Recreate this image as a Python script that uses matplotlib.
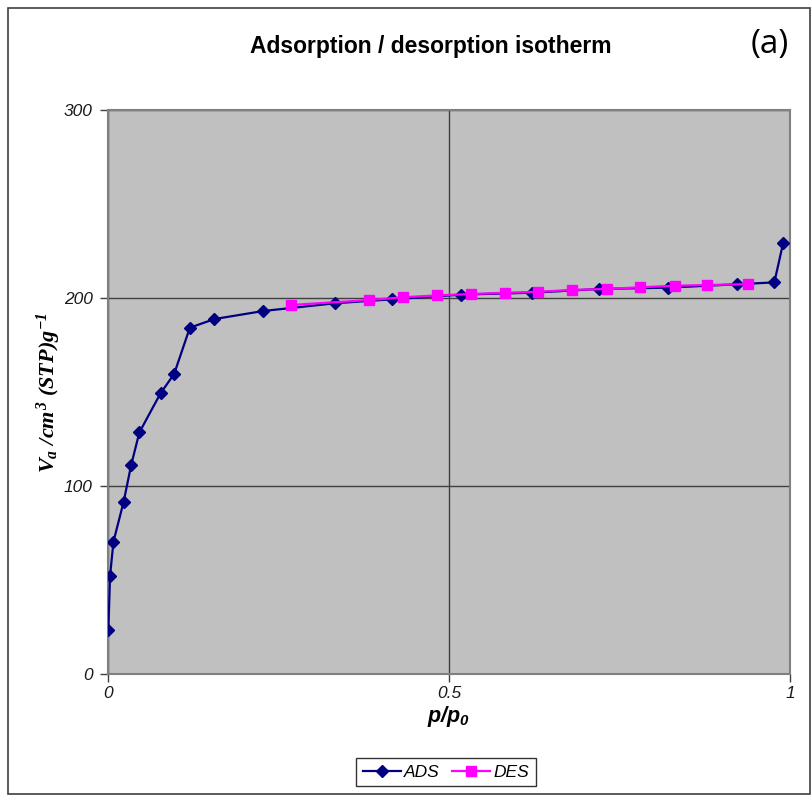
import matplotlib
matplotlib.use("Agg")
import matplotlib.pyplot as plt
from matplotlib.patches import Rectangle

plt.rcParams['mathtext.fontset'] = 'custom'
plt.rcParams['mathtext.rm'] = 'Liberation Serif:bold:italic'
plt.rcParams['mathtext.it'] = 'Liberation Serif:bold:italic'
plt.rcParams['mathtext.bf'] = 'Liberation Serif:bold:italic'
plt.rcParams['mathtext.sf'] = 'Liberation Sans:bold:italic'

# Adsorption branch
ads_x = [0.0005, 0.003, 0.008, 0.023, 0.034, 0.046, 0.077, 0.097, 0.120, 0.156,
         0.228, 0.333, 0.416, 0.518, 0.621, 0.720, 0.821, 0.922, 0.977, 0.990]
ads_y = [23.4, 52.1, 70.4, 91.7, 111.2, 128.5, 149.3, 159.6, 184.2, 188.8,
         193.1, 197.2, 199.3, 201.8, 202.8, 204.8, 205.5, 207.3, 208.3, 229.3]
# Desorption branch
des_x = [0.269, 0.383, 0.433, 0.483, 0.532, 0.582, 0.630, 0.681, 0.731, 0.780,
         0.831, 0.878, 0.939]
des_y = [196.3, 198.9, 200.4, 201.4, 202.1, 202.8, 203.3, 204.3, 204.8, 205.7,
         206.5, 206.9, 207.4]

x_ticks = [0, 0.5, 1]
x_labels = ["0", "0.5", "1"]
y_ticks = [0, 100, 200, 300]
y_labels = ["0", "100", "200", "300"]

fig = plt.figure(figsize=(8.12, 7.95), dpi=100)
fig.patches.append(Rectangle((8/812, 1/795), 802/812, 786/795, transform=fig.transFigure,
                             fill=False, edgecolor='#404040', linewidth=1.2))
ax = fig.add_axes([108/812, 1 - 674/795, 682/812, 564/795])
ax.set_facecolor('#C0C0C0')

ax.plot(ads_x, ads_y, color='#000080', marker='D', markersize=6, linewidth=1.6,
        label='ADS', zorder=3)
ax.plot(des_x, des_y, color='#FF00FF', marker='s', markersize=7.5, linewidth=1.6,
        label='DES', zorder=4)

ax.set_xlim(0, 1)
ax.set_ylim(0, 300)
ax.set_xticks(x_ticks)
ax.set_xticklabels(x_labels)
ax.set_yticks(y_ticks)
ax.set_yticklabels(y_labels)
for lbl in ax.get_xticklabels() + ax.get_yticklabels():
    lbl.set_fontfamily('Liberation Sans')
    lbl.set_fontstyle('italic')
    lbl.set_fontsize(12.5)
    lbl.set_color('#1a1a1a')
ax.tick_params(direction='out', length=6, width=1, color='#404040')
ax.tick_params(axis='x', pad=3)
ax.tick_params(axis='y', pad=5)

ax.grid(True, color='#404040', linewidth=1)
ax.set_axisbelow(True)
for s in ax.spines.values():
    s.set_color('#808080')
    s.set_linewidth(1.5)

ax.set_xlabel(r'$\mathsf{p/p_0}$', fontsize=15.5, labelpad=2)
ax.set_ylabel(r'$V_a\ /cm^3\ (STP)g^{-1}$', fontsize=16)
ax.yaxis.set_label_coords(-0.066, 0.5)

fig.text(431/812, 1 - 46/795, 'Adsorption / desorption isotherm', ha='center', va='center',
         fontsize=16.5, fontweight='bold', family='Liberation Sans')
fig.text(770/812, 1 - 45/795, '(a)', ha='center', va='center', fontsize=24,
         family='Open Sans')

leg = fig.legend(loc='center', bbox_to_anchor=(446/812, 1 - 772/795), ncol=2,
                 frameon=True, fancybox=False, edgecolor='black',
                 prop={'family': 'Liberation Sans', 'style': 'italic', 'size': 12.5},
                 handlelength=2.2, columnspacing=0.7, borderpad=0.35, handletextpad=0.2)
leg.get_frame().set_linewidth(1)

fig.savefig('out.png', dpi=100)
